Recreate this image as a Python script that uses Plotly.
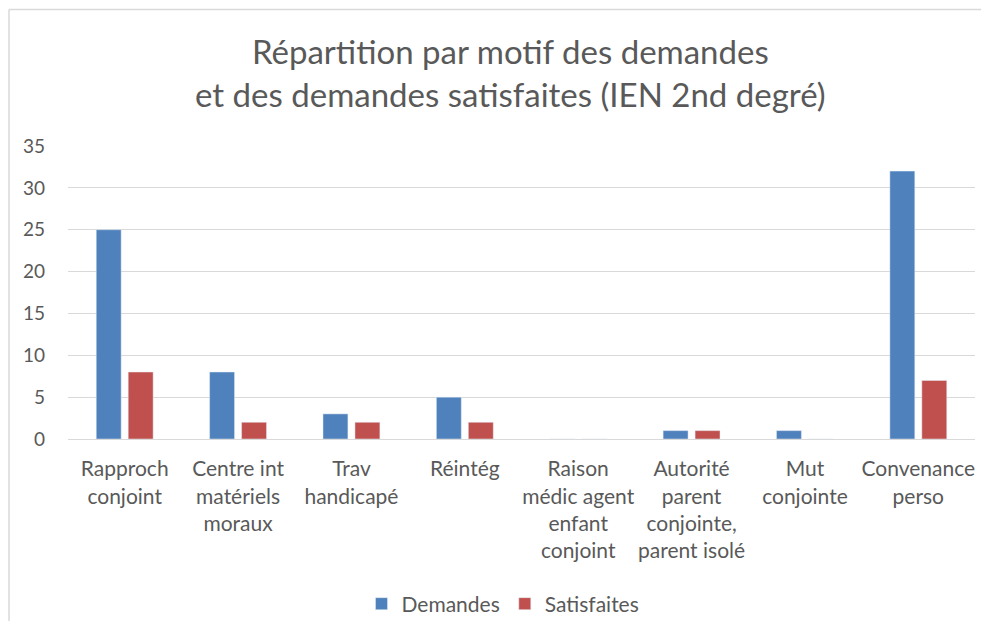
import plotly.graph_objects as go

categories = ["Rapproch conjoint", "Centre int matériels moraux", "Trav handicapé", "Réintég",
              "Raison médic agent enfant conjoint", "Autorité parent conjointe, parent isolé",
              "Mut conjointe", "Convenance perso"]
tick_labels = ["Rapproch<br>conjoint", "Centre int<br>matériels<br>moraux", "Trav<br>handicapé", "Réintég",
               "Raison<br>médic agent<br>enfant<br>conjoint", "Autorité<br>parent<br>conjointe,<br>parent isolé",
               "Mut<br>conjointe", "Convenance<br>perso"]
demandes = [25, 8, 3, 5, 0, 1, 1, 32]
satisfaites = [8, 2, 2, 2, 0, 1, 0, 7]
title_text = "Répartition par motif des demandes<br>et des demandes satisfaites (IEN 2nd degré)"

FONT = "Lato"
TXT = "#595959"
GRID = "#d9d9d9"

fig = go.Figure()
fig.add_trace(go.Bar(x=categories, y=demandes, name="Demandes", marker=dict(color="#4F81BD")))
fig.add_trace(go.Bar(x=categories, y=satisfaites, name="Satisfaites", marker=dict(color="#C0504D")))

OFF = 8  # page body margin
W, H = 989 - 2 * OFF, 629 - 2 * OFF
ml, mr, mt, mb = 68 - OFF, W - (975 - OFF), 146 - OFF, H - (439 - OFF)
pw, ph = W - ml - mr, H - mt - mb

def py(p):  # target screen pixel y -> paper y
    return (H - mb - (p - OFF)) / ph

def px(p):  # target screen pixel x -> paper x
    return ((p - OFF) - ml) / pw

fig.update_layout(
    width=W, height=H,
    margin=dict(l=ml, r=mr, t=mt, b=mb, autoexpand=False),
    paper_bgcolor="white", plot_bgcolor="white",
    font=dict(family=FONT, color=TXT, size=19),
    barmode="group", bargap=0.436, bargroupgap=0.22,
    legend=dict(orientation="h", x=px(503), xanchor="center",
                y=py(604), yanchor="middle",
                font=dict(size=21, color=TXT), itemwidth=30),
    showlegend=True,
)
fig.add_annotation(text=title_text, xref="paper", yref="paper", x=px(510), y=py(72),
                   xanchor="center", yanchor="middle", showarrow=False,
                   font=dict(family=FONT, size=33, color=TXT))
fig.update_xaxes(tickvals=categories, ticktext=tick_labels, showline=True, linecolor=GRID, linewidth=1,
                 ticks="", showgrid=False, ticklabelstandoff=11, automargin=False,
                 tickfont=dict(size=21))
fig.update_yaxes(range=[0, 35], dtick=5, showgrid=True, gridcolor=GRID, gridwidth=1,
                 zeroline=False, showline=False, ticks="", ticklabelstandoff=22, automargin=False,
                 tickfont=dict(size=19))

# chart frame: only top and left edges are visible in the reference
fig.add_shape(type="line", xref="paper", yref="paper",
              x0=px(9), x1=px(1040), y0=py(9.5), y1=py(9.5),
              line=dict(color=GRID, width=1.5), layer="below")
fig.add_shape(type="line", xref="paper", yref="paper",
              x0=px(9), x1=px(9), y0=py(9.5), y1=py(680),
              line=dict(color=GRID, width=1.5), layer="below")

fig.write_html("out.html")
